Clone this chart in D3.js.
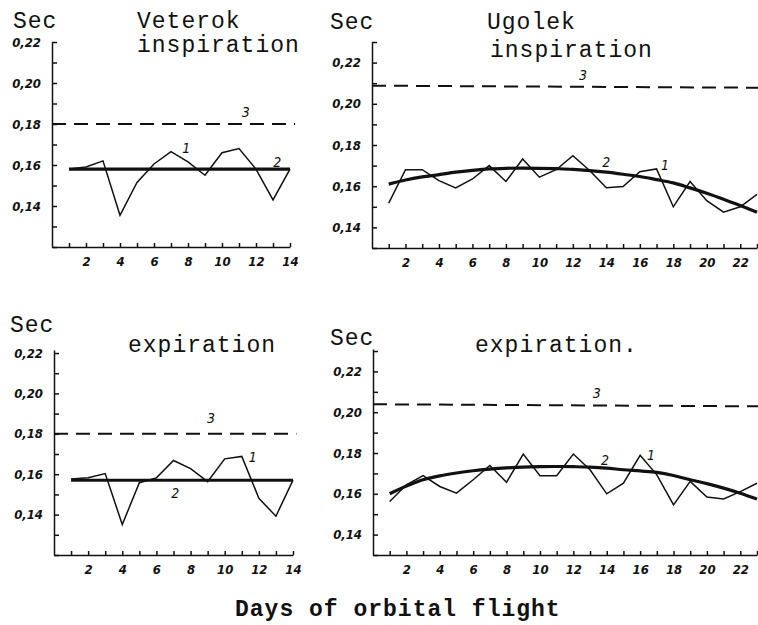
<!DOCTYPE html>
<html>
<head>
<meta charset="utf-8">
<script src="https://cdn.jsdelivr.net/npm/d3@7"></script>
<style>
  body { margin: 0; background: #fff; }
  svg { display: block; }
  .title { font-family: "Liberation Mono", "Courier New", monospace; font-size: 23px; letter-spacing: 1px; fill: #111; }
  .axis text { font-family: "DejaVu Sans Condensed", "DejaVu Sans", sans-serif; font-style: italic; font-weight: bold; font-size: 13px; fill: #111; }
  .axis path, .axis line { stroke: #111; stroke-width: 1.5; }
  .note { font-family: "DejaVu Sans Condensed", "DejaVu Sans", sans-serif; font-style: italic; font-size: 14px; fill: #111; }
</style>
</head>
<body>
<svg id="chart" width="758" height="625"></svg>
<script>
// days of orbital flight
const days14 = [1, 2, 3, 4, 5, 6, 7, 8, 9, 10, 11, 12, 13, 14];
const days23 = [1, 2, 3, 4, 5, 6, 7, 8, 9, 10, 11, 12, 13, 14, 15, 16, 17, 18, 19, 20, 21, 22, 23];
const flatTrendDays = [1, 14];

// y ticks (every 0.01), labelled ones every 0.02
const yTicksLow = [0.12, 0.13, 0.14, 0.15, 0.16, 0.17, 0.18, 0.19, 0.20, 0.21, 0.22];
const yTicksHigh = [0.13, 0.14, 0.15, 0.16, 0.17, 0.18, 0.19, 0.20, 0.21, 0.22, 0.23];
const yLabels = [0.14, 0.16, 0.18, 0.20, 0.22];

// Veterok, inspiration
const veterokInspObs = [0.158, 0.159, 0.162, 0.1355, 0.1515, 0.1605, 0.1665, 0.1615, 0.155, 0.166, 0.168, 0.158, 0.143, 0.158];
const veterokInspTrend = [0.158, 0.158];
const veterokInspNorm = [0.18, 0.18];

// Ugolek, inspiration
const ugolekInspObs = [0.1518, 0.168, 0.168, 0.1627, 0.1592, 0.1635, 0.170, 0.1623, 0.1732, 0.1644, 0.168, 0.1748,
  0.1676, 0.1592, 0.1598, 0.167, 0.1684, 0.150, 0.1623, 0.153, 0.1474, 0.150, 0.156];
const ugolekInspTrend = [0.161, 0.163, 0.1645, 0.1656, 0.1668, 0.1677, 0.1684, 0.1687, 0.1688, 0.1687, 0.1685, 0.1682,
  0.1676, 0.1668, 0.1658, 0.1647, 0.1632, 0.1616, 0.1592, 0.1566, 0.1537, 0.1506, 0.1474];
const ugolekInspNorm = [0.2088, 0.2078];

// Veterok, expiration
const veterokExpObs = [0.1576, 0.1583, 0.1603, 0.1351, 0.1558, 0.1582, 0.1668, 0.1628, 0.1563, 0.1676, 0.1688, 0.1481, 0.1392, 0.1571];
const veterokExpTrend = [0.157, 0.157];
const veterokExpNorm = [0.18, 0.18];

// Ugolek, expiration
const ugolekExpObs = [0.1562, 0.1644, 0.1689, 0.1636, 0.1603, 0.1669, 0.1739, 0.1657, 0.1795, 0.1689, 0.1689, 0.1795,
  0.1718, 0.160, 0.1652, 0.1789, 0.1693, 0.1546, 0.1661, 0.1584, 0.1575, 0.1611, 0.1652];
const ugolekExpTrend = [0.160, 0.1638, 0.1669, 0.1688, 0.1702, 0.1713, 0.1721, 0.1727, 0.1731, 0.1733, 0.1734, 0.1733,
  0.1731, 0.1726, 0.1718, 0.1712, 0.1705, 0.169, 0.1669, 0.165, 0.1628, 0.1603, 0.1574];
const ugolekExpNorm = [0.2039, 0.2029];

const svg = d3.select('#chart');

const panels = [
  {
    xRange: [52, 290], xDomain: [0, 14], yRange: [247, 42], yDomain: [0.12, 0.22],
    days: days14, yTicks: yTicksLow, obs: veterokInspObs,
    trendDays: flatTrendDays, trend: veterokInspTrend, norm: veterokInspNorm, normEnd: 14.3,
    titles: [{t: 'Sec', x: 13, y: 28}, {t: 'Veterok', x: 137, y: 28}, {t: 'inspiration', x: 137, y: 52}],
    notes: [{t: '3', d: 11.4, v: 0.1834}, {t: '1', d: 7.9, v: 0.1659}, {t: '2', d: 13.25, v: 0.159}]
  },
  {
    xRange: [372, 757], xDomain: [0, 23], yRange: [248, 42], yDomain: [0.13, 0.23],
    days: days23, yTicks: yTicksHigh, obs: ugolekInspObs,
    trendDays: days23, trend: ugolekInspTrend, norm: ugolekInspNorm, normEnd: 23.1,
    titles: [{t: 'Sec', x: 330, y: 29}, {t: 'Ugolek', x: 487, y: 29}, {t: 'inspiration', x: 490, y: 57}],
    notes: [{t: '3', d: 12.6, v: 0.2116}, {t: '2', d: 14.0, v: 0.1693}, {t: '1', d: 17.5, v: 0.1679}]
  },
  {
    xRange: [54, 293], xDomain: [0, 14], yRange: [555, 350], yDomain: [0.12, 0.2215],
    days: days14, yTicks: yTicksLow, obs: veterokExpObs,
    trendDays: flatTrendDays, trend: veterokExpTrend, norm: veterokExpNorm, normEnd: 14.2,
    titles: [{t: 'Sec', x: 10, y: 332}, {t: 'expiration', x: 128, y: 352}],
    notes: [{t: '3', d: 9.2, v: 0.1853}, {t: '1', d: 11.65, v: 0.166}, {t: '2', d: 7.1, v: 0.1482}]
  },
  {
    xRange: [373, 757], xDomain: [0, 23], yRange: [555, 349], yDomain: [0.13, 0.231],
    days: days23, yTicks: yTicksHigh, obs: ugolekExpObs,
    trendDays: days23, trend: ugolekExpTrend, norm: ugolekExpNorm, normEnd: 23.1,
    titles: [{t: 'Sec', x: 330, y: 345}, {t: 'expiration.', x: 475, y: 352}],
    notes: [{t: '3', d: 13.4, v: 0.207}, {t: '2', d: 13.9, v: 0.1741}, {t: '1', d: 16.65, v: 0.1766}]
  }
];

const fmt = d3.format('.2f');

panels.forEach(p => {
  const x = d3.scaleLinear().domain(p.xDomain).range(p.xRange);
  const y = d3.scaleLinear().domain(p.yDomain).range(p.yRange);
  const g = svg.append('g');

  // axes with inward ticks
  g.append('g')
    .attr('class', 'axis')
    .attr('transform', `translate(0,${p.yRange[0]})`)
    .call(d3.axisBottom(x).tickValues(p.days).tickSizeInner(-4).tickSizeOuter(0).tickPadding(10)
      .tickFormat(d => d % 2 === 0 ? d : ''));

  g.append('g')
    .attr('class', 'axis')
    .attr('transform', `translate(${p.xRange[0]},0)`)
    .call(d3.axisLeft(y).tickValues(p.yTicks).tickSizeInner(-5).tickSizeOuter(0).tickPadding(11)
      .tickFormat(d => yLabels.some(l => Math.abs(l - d) < 1e-6) ? fmt(d).replace('.', ',') : ''));

  const line = d3.line().x(d => x(d[0])).y(d => y(d[1]));

  // 3: norm (dashed)
  g.append('path')
    .datum([[p.xDomain[0], p.norm[0]], [p.normEnd, p.norm[1]]])
    .attr('d', line)
    .attr('fill', 'none')
    .attr('stroke', '#111')
    .attr('stroke-width', 2)
    .attr('stroke-dasharray', '14,8');

  // 2: trend (thick)
  g.append('path')
    .datum(p.trendDays.map((d, i) => [d, p.trend[i]]))
    .attr('d', line.curve(d3.curveCatmullRom))
    .attr('fill', 'none')
    .attr('stroke', '#111')
    .attr('stroke-width', 3.2);

  // 1: observed values (thin)
  g.append('path')
    .datum(p.days.map((d, i) => [d, p.obs[i]]))
    .attr('d', d3.line().x(d => x(d[0])).y(d => y(d[1])))
    .attr('fill', 'none')
    .attr('stroke', '#111')
    .attr('stroke-width', 1.5)
    .attr('stroke-linejoin', 'miter');

  g.selectAll('.note')
    .data(p.notes)
    .join('text')
    .attr('class', 'note')
    .attr('x', d => x(d.d))
    .attr('y', d => y(d.v))
    .attr('text-anchor', 'middle')
    .text(d => d.t);

  g.selectAll('.title')
    .data(p.titles)
    .join('text')
    .attr('class', 'title')
    .attr('x', d => d.x)
    .attr('y', d => d.y)
    .text(d => d.t);
});

svg.append('text')
  .attr('class', 'title')
  .attr('x', 235)
  .attr('y', 616)
  .style('font-weight', 'bold')
  .text('Days of orbital flight');
</script>
</body>
</html>
